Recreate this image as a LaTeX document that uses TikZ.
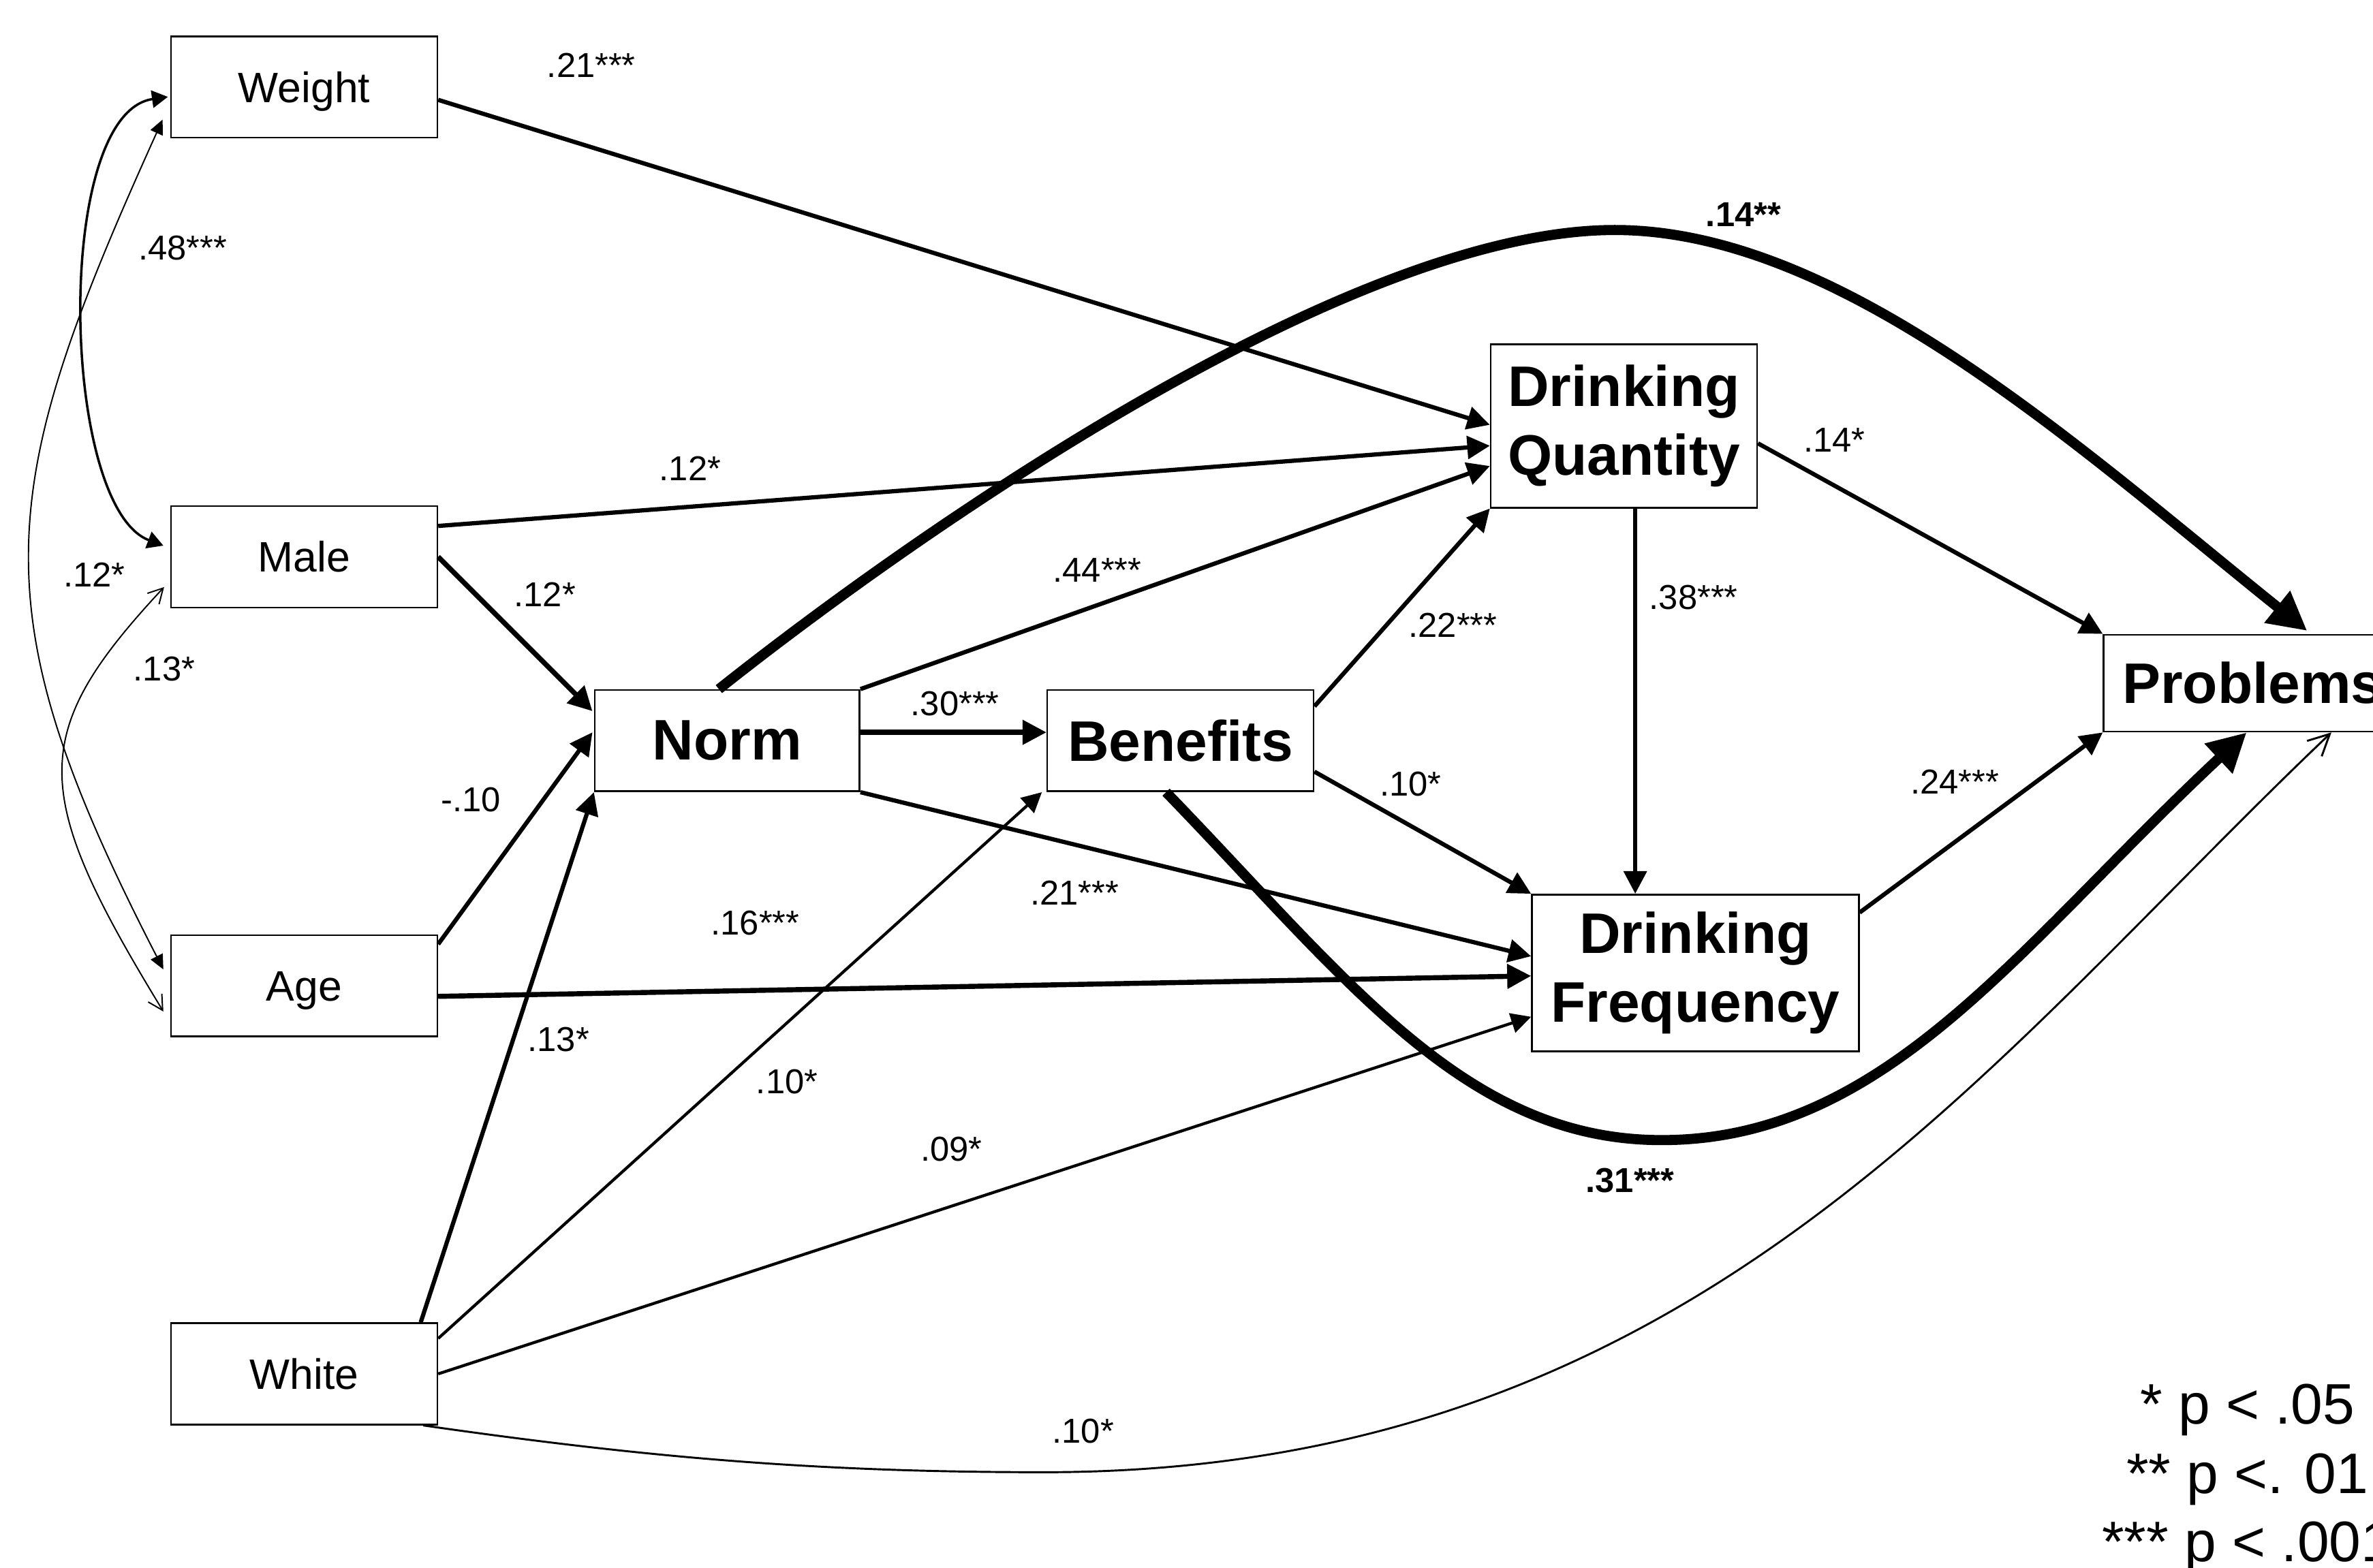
\documentclass[tikz,border=0pt]{standalone}
\usepackage{fontspec}
\setmainfont{Liberation Sans}
\usetikzlibrary{arrows.meta,calc}
\tikzset{
 sbox/.style={draw, line width=0.65pt, minimum width=3.52cm, minimum height=1.34cm, inner sep=0pt, text height=11.5pt, text depth=0pt, font=\fontsize{16}{19}\selectfont},
 bbox/.style={draw, line width=0.65pt, inner sep=0pt, align=center, font=\fontsize{21.5}{26}\selectfont\bfseries},
 lab/.style={inner sep=0pt, font=\fontsize{13}{15}\selectfont},
 blab/.style={inner sep=0pt, font=\fontsize{13}{15}\selectfont\bfseries},
 legend/.style={inner sep=0pt, anchor=base, font=\fontsize{21.5}{26}\selectfont},
 pth/.style={line width=1.6pt, -{Triangle[length=8.5pt,width=8.5pt]}},
 pthk/.style={line width=1.9pt, -{Triangle[length=9pt,width=9pt]}},
 pthn/.style={line width=1.1pt, -{Triangle[length=7.5pt,width=7.5pt]}},
 bigarc/.style={line width=3.8pt, -{Triangle[length=14.5pt,width=14.5pt]}},
 thinopen/.style={line width=0.75pt, -{Straight Barb[length=8pt,width=8pt]}},
 covA/.style={line width=0.9pt, {Triangle[length=6pt,width=6.5pt]}-{Triangle[length=6pt,width=6.5pt]}},
 covB/.style={line width=0.5pt, {Triangle[length=5.5pt,width=5pt]}-{Triangle[length=5.5pt,width=5pt]}},
 covC/.style={line width=0.5pt, {Straight Barb[length=5.5pt,width=6pt]}-{Straight Barb[length=5.5pt,width=6pt]}},
}
\begin{document}
\begin{tikzpicture}[x=0.02cm,y=-0.02cm]
\useasboundingbox (0,0) rectangle (1568,1036);
\clip (0,0) rectangle (1568,1036);
\fill[white] (0,0) rectangle (1568,1036);

% boxes
\node[sbox] (weight) at (201,57.5) {Weight};
\node[sbox] (male) at (201,368) {Male};
\node[sbox] (age) at (201,651.5) {Age};
\node[sbox] (white) at (201,908) {White};
\node[bbox, minimum width=3.5cm, minimum height=1.34cm] (norm) at (480.5,489.5) {Norm};
\node[bbox, minimum width=3.52cm, minimum height=1.34cm] (ben) at (780,489.5) {Benefits};
\node[bbox, minimum width=3.52cm, minimum height=2.16cm] (dq) at (1073,281.5) {Drinking\\Quantity};
\node[bbox, minimum width=4.32cm, minimum height=2.07cm] (df) at (1120.25,643) {Drinking\\Frequency};
\node[bbox, minimum width=3.94cm, minimum height=1.28cm] (prob) at (1488.5,451.5) {Problems};

% straight paths
\draw[pth] ($(weight.east)+(0,8.5)$) -- ($(dq.west)+(0,-0.75)$);
\draw[pth] ($(male.east)+(0,-20.4)$) -- ($(dq.west)+(0,13.1)$);
\draw[pthk] (male.east) -- ($(norm.west)+(-1,-19.5)$);
\draw[pth] ($(age.east)+(0,-27.5)$) -- ($(norm.west)+(-1,-5.5)$);
\draw[pthk] ($(age.east)+(0,7)$) -- ($(df.west)+(0,2)$);
\draw[pth] ($(white.north)+(77,0)$) -- (norm.south west);
\draw[pthn] ($(white.east)+(0,-23.4)$) -- ($(ben.south west)+(-3,0)$);
\draw[pthn] (white.east) -- ($(df.west)+(0,29)$);
\draw[pth] (norm.north east) -- ($(dq.west)+(0,26.5)$);
\draw[pthk] ($(norm.east)+(0,-5.5)$) -- ($(ben.west)+(0,-5.5)$);
\draw[pth] (norm.south east) -- ($(df.west)+(0,-11)$);
\draw[pth] ($(ben.east)+(0,-22.7)$) -- (dq.south west);
\draw[pth] ($(ben.east)+(0,20.5)$) -- (df.north west);
\coordinate (dqs) at ($(dq.south)+(7.5,0)$);
\draw[pth] (dqs) -- (dqs |- df.north);
\draw[pth] ($(dq.east)+(0,11.5)$) -- (prob.north west);
\draw[pth] ($(df.north east)+(0,12.4)$) -- (prob.south west);

% curved paths
\coordinate (npk) at (1067,152);
\draw[bigarc] ($(norm.north)+(-5.5,0)$) .. controls (595,360) and (887,152) .. (npk) .. controls (1217,152) and (1375,297) .. ($(prob.north)+(36,-2)$);
\coordinate (bpk) at (1098,753.5);
\draw[bigarc] ($(ben.south)+(-9.5,0)$) .. controls (890.5,647.6) and (968,753.5) .. (bpk) .. controls (1247,753.5) and (1335,623.5) .. ($(prob.south)+(-4,0)$);
\coordinate (wpk) at (690,973);
\draw[thinopen] ($(white.south east)+(-10,0)$) .. controls (429,963.5) and (540,973) .. (wpk) .. controls (1120,973) and (1310.6,702.5) .. ($(prob.south)+(52,0)$);

% covariances
\draw[covA] ($(weight.west)+(-1.5,6.5)$) .. controls (35,75) and (40,335) .. ($(male.west)+(-4.5,-7.4)$);
\draw[covB] ($(weight.west)+(-5,21.5)$) .. controls (-3.3,324) and (-15.5,401) .. ($(age.west)+(-4.5,-10.8)$);
\draw[covC] ($(male.west)+(-4,20)$) .. controls (18,485) and (19.5,523.5) .. ($(age.west)+(-4.5,17)$);

% labels
\node[lab] (l1) at (390.7,43.3) {.21***};
\node[lab] (l2) at (120.6,164) {.48***};
\node[blab] (l3) at (1152,142) {.14**};
\node[lab] (l4) at (456,309.6) {.12*};
\node[lab] (l5) at (1212,291) {.14*};
\node[lab] (l6) at (725,377) {.44***};
\node[lab] (l7) at (1119,395) {.38***};
\node[lab] (l8) at (360,393) {.12*};
\node[lab] (l9) at (62.3,380) {.12*};
\node[lab] (l10) at (108.5,442) {.13*};
\node[lab] (l11) at (960,413) {.22***};
\node[lab] (l12) at (631,465) {.30***};
\node[lab] (l13) at (932,518) {.10*};
\node[lab] (l14) at (1291.6,516.6) {.24***};
\node[lab] (l15) at (311,528.5) {-.10};
\node[lab] (l16) at (710,590) {.21***};
\node[lab] (l17) at (499,610) {.16***};
\node[lab] (l18) at (369,687) {.13*};
\node[lab] (l19) at (520,715) {.10*};
\node[lab] (l20) at (628.6,759.5) {.09*};
\node[blab] (l21) at (1077,780) {.31***};
\node[lab] (l22) at (715.7,946) {.10*};

% legend
\node[legend] (leg1) at (1485,941) {* p < .05};
\node[legend] (leg2) at (1485,987) {** p <. 01};
\node[legend] (leg3) at (1485,1032) {*** p < .001};
\end{tikzpicture}
\end{document}
